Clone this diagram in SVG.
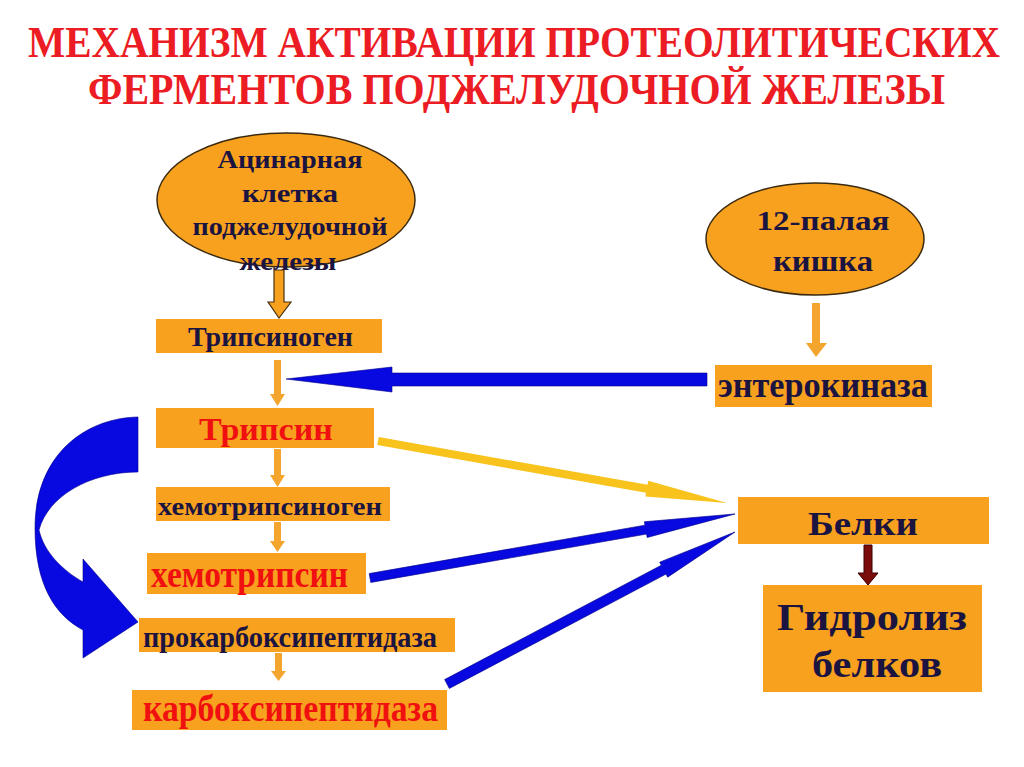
<svg xmlns="http://www.w3.org/2000/svg" width="1024" height="767" viewBox="0 0 1024 767">
<style>
text{font-family:"Liberation Serif","Times New Roman",serif;font-weight:bold;}
.title{fill:#EC1C24;font-size:44px;}
.dk{fill:#1B1440;}
.rd{fill:#F01010;}
.box{fill:#F8A11E;}
.ell{fill:#F8A11E;stroke:#3A2A10;stroke-width:1.5;}
.or{fill:#F4A52E;}
.bl{fill:#0808E0;stroke:#00008B;stroke-width:0.6;}
.yl{fill:#F7C31C;}
</style>
<rect width="1024" height="767" fill="#FFFFFF"/>
<g id="title">
<text class="title" x="28" y="57" textLength="972" lengthAdjust="spacingAndGlyphs">МЕХАНИЗМ АКТИВАЦИИ ПРОТЕОЛИТИЧЕСКИХ</text>
<text class="title" x="88" y="104" textLength="857" lengthAdjust="spacingAndGlyphs">ФЕРМЕНТОВ ПОДЖЕЛУДОЧНОЙ ЖЕЛЕЗЫ</text>
</g>
<g id="acinar">
<ellipse class="ell" cx="286" cy="200" rx="129" ry="67"/>
<text class="dk" x="290" y="168" font-size="26" text-anchor="middle" textLength="145" lengthAdjust="spacingAndGlyphs">Ацинарная</text>
<text class="dk" x="290" y="202" font-size="26" text-anchor="middle" textLength="96" lengthAdjust="spacingAndGlyphs">клетка</text>
<text class="dk" x="290" y="235" font-size="26" text-anchor="middle" textLength="195" lengthAdjust="spacingAndGlyphs">поджелудочной</text>
<text class="dk" x="288" y="270" font-size="26" text-anchor="middle" textLength="97" lengthAdjust="spacingAndGlyphs">железы</text>
</g>
<g id="duodenum">
<ellipse class="ell" cx="815" cy="239" rx="109" ry="56"/>
<text class="dk" x="823" y="230" font-size="27" text-anchor="middle" textLength="133" lengthAdjust="spacingAndGlyphs">12-палая</text>
<text class="dk" x="823" y="271" font-size="29" text-anchor="middle" textLength="100" lengthAdjust="spacingAndGlyphs">кишка</text>
</g>
<g id="trypsinogen">
<rect class="box" x="156" y="319" width="226" height="34"/>
<text class="dk" x="188" y="346" font-size="27" textLength="165" lengthAdjust="spacingAndGlyphs">Трипсиноген</text>
</g>
<g id="enterokinase">
<rect class="box" x="715" y="365" width="217" height="42"/>
<text class="dk" x="718" y="397" font-size="36" textLength="210" lengthAdjust="spacingAndGlyphs">энтерокиназа</text>
</g>
<g id="trypsin">
<rect class="box" x="156" y="408" width="218" height="40"/>
<text class="rd" x="199" y="440" font-size="31" textLength="134" lengthAdjust="spacingAndGlyphs">Трипсин</text>
</g>
<g id="chymotrypsinogen">
<rect class="box" x="156" y="487" width="234" height="34"/>
<text class="dk" x="158" y="515" font-size="26" textLength="224" lengthAdjust="spacingAndGlyphs">хемотрипсиноген</text>
</g>
<g id="chymotrypsin">
<rect class="box" x="147" y="553" width="219" height="41"/>
<text class="rd" x="151" y="587" font-size="38" textLength="197" lengthAdjust="spacingAndGlyphs">хемотрипсин</text>
</g>
<g id="procarboxypeptidase">
<rect class="box" x="139" y="618" width="316" height="34"/>
<text class="dk" x="143" y="647" font-size="30" textLength="294" lengthAdjust="spacingAndGlyphs">прокарбоксипептидаза</text>
</g>
<g id="carboxypeptidase">
<rect class="box" x="132" y="690" width="315" height="40"/>
<text class="rd" x="143" y="721" font-size="37" textLength="295" lengthAdjust="spacingAndGlyphs">карбоксипептидаза</text>
</g>
<g id="proteins">
<rect class="box" x="738" y="497" width="251" height="47"/>
<text class="dk" x="808" y="535" font-size="33" textLength="110" lengthAdjust="spacingAndGlyphs">Белки</text>
</g>
<g id="hydrolysis">
<rect class="box" x="763" y="585" width="219" height="107"/>
<text class="dk" x="777" y="630" font-size="38" textLength="190" lengthAdjust="spacingAndGlyphs">Гидролиз</text>
<text class="dk" x="812" y="677" font-size="38" textLength="130" lengthAdjust="spacingAndGlyphs">белков</text>
</g>
<g id="connectors">
<polygon points="274,270 284,270 284,302 291,302 279,318 268,302 274,302" fill="#F8A11E" stroke="#4A3010" stroke-width="1.2"/>
<polygon class="or" points="274,360 281,360 281,394 285,394 277.5,406 270,394 274,394"/>
<polygon class="or" points="274,449 281,449 281,475 285,475 277.5,487 270,475 274,475"/>
<polygon class="or" points="274,522 281,522 281,541 285,541 277.5,552 270,541 274,541"/>
<polygon class="or" points="275,653 282,653 282,671 286,671 278.5,681 271,671 275,671"/>
<polygon class="or" points="812,303 820,303 820,343 827,343 816,357 806,343 812,343"/>
<polygon class="bl" points="707,373 707,386 392,386 392,392 286,379 392,367 392,373"/>
<g transform="translate(378,441) rotate(10.07)"><polygon class="yl" points="0,-4 273,-4 273,-8 354.5,0 273,8 273,4 0,4"/></g>
<g transform="translate(370,578) rotate(-9.95)"><polygon class="bl" points="0,-4.5 280,-4.5 280,-8 370.6,0 280,8 280,4.5 0,4.5"/></g>
<g transform="translate(447,684) rotate(-27.82)"><polygon class="bl" points="0,-5 245,-5 245,-8.5 325.6,0 245,8.5 245,5 0,5"/></g>
<path class="bl" d="M138,417 C85,418 35,455 35,528 C35,585 55,615 83,630 L83,658 L138,622 L83,559 L83,582 C62,570 44,552 39,530 C48,496 90,472 138,472 Z"/>
<polygon points="864,545 872,545 872,573 878,573 868,585 858,573 864,573" fill="#7A0C0C" stroke="#3A0000" stroke-width="1"/>
</g>
</svg>
